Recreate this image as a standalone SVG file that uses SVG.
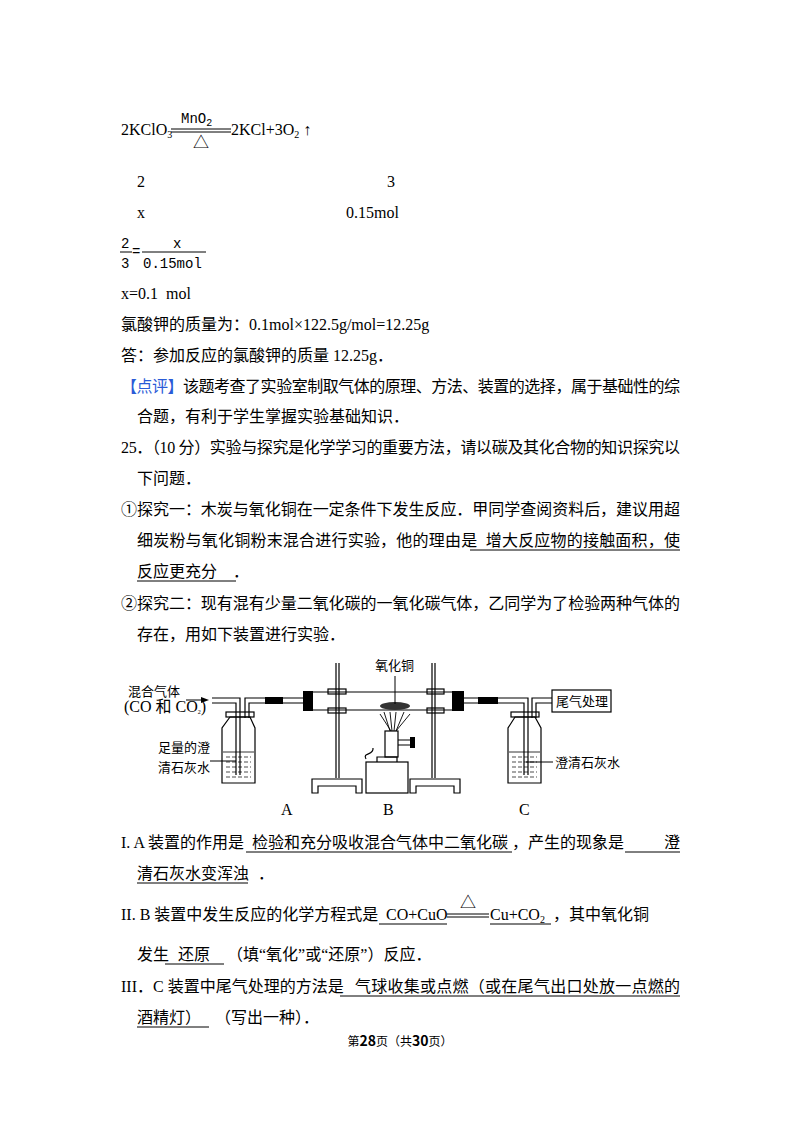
<svg xmlns="http://www.w3.org/2000/svg" width="800" height="1132" viewBox="0 0 800 1132" xml:space="preserve">
<style>
text{white-space:pre}
.t{font-family:"Liberation Serif","Noto Sans CJK SC",serif;font-size:16px;fill:#000}
.s{font-family:"Noto Sans CJK SC",sans-serif;font-size:13px;fill:#000}
.m{font-family:"Liberation Mono","Noto Sans CJK SC",monospace;font-size:14px;fill:#000}
.u{stroke:#000;stroke-width:1}
.g{fill:none;stroke:#000;stroke-width:1.2}
.blk{fill:#000}
</style>
<rect width="800" height="1132" fill="#fff"/>
<g id="text-top">
<text class="t" x="121" y="135">2KClO<tspan font-size="10" dy="3">3</tspan></text>
<line class="u" x1="171" y1="129" x2="231" y2="129"/><line class="u" x1="171" y1="132" x2="231" y2="132"/>
<text class="m" x="181" y="123">MnO<tspan font-size="10" dy="3">2</tspan></text>
<text class="t" x="193" y="148">△</text>
<text class="t" x="231" y="135">2KCl+3O<tspan font-size="10" dy="3">2</tspan><tspan dy="-3"> ↑</tspan></text>
<text class="t" x="137" y="187">2</text><text class="t" x="387" y="187">3</text>
<text class="t" x="137" y="218">x</text><text class="t" x="346" y="218">0.15mol</text>
<text class="m" x="121" y="248">2</text><line class="u" x1="120" y1="252" x2="132" y2="252"/><text class="m" x="121" y="268">3</text>
<text class="m" x="132" y="256">=</text>
<text class="m" x="173" y="248">x</text><line class="u" x1="142" y1="252" x2="206" y2="252"/><text class="m" x="143" y="268">0.15mol</text>
<text class="t" x="121" y="299">x=0.1  mol</text>
<text class="t" x="121" y="330">氯酸钾的质量为：0.1mol×122.5g/mol=12.25g</text>
<text class="t" x="121" y="361">答：参加反应的氯酸钾的质量 12.25g．</text>
<text class="t" x="121" y="392" textLength="559"><tspan fill="#2a5bd7">【点评】</tspan>该题考查了实验室制取气体的原理、方法、装置的选择，属于基础性的综</text>
<text class="t" x="137" y="422">合题，有利于学生掌握实验基础知识．</text>
<text class="t" x="121" y="453" textLength="559">25．（10 分）实验与探究是化学学习的重要方法，请以碳及其化合物的知识探究以</text>
<text class="t" x="137" y="484">下问题．</text>
<text class="t" x="121" y="515" textLength="559">①探究一：木炭与氧化铜在一定条件下发生反应．甲同学查阅资料后，建议用超</text>
<text class="t" x="137" y="546" textLength="543">细炭粉与氧化铜粉末混合进行实验，他的理由是  增大反应物的接触面积，使</text>
<line class="u" x1="470" y1="550" x2="680" y2="550"/>
<text class="t" x="137" y="577">反应更充分    ．</text>
<line class="u" x1="137" y1="581" x2="236" y2="581"/>
<text class="t" x="121" y="609" textLength="559">②探究二：现有混有少量二氧化碳的一氧化碳气体，乙同学为了检验两种气体的</text>
<text class="t" x="137" y="640">存在，用如下装置进行实验．</text>
</g>
<g id="apparatus">
<text class="s" x="128" y="696">混合气体</text>
<text class="t" x="124" y="712" font-size="9">(CO 和 CO<tspan font-size="6" dy="2">2</tspan><tspan dy="-2">)</tspan></text>
<line class="u" x1="186" y1="700" x2="203" y2="700"/><polygon class="blk" points="209,700 201,697 201,703"/>
<path class="g" d="M212 698 H240 V775 M212 703 H236 V775"/>
<path class="g" d="M245 718 V698 H265 M249 718 V703 H265"/>
<rect class="blk" x="265" y="697" width="18" height="7"/>
<path class="g" d="M283 698 H303 M283 703 H303"/>
<rect class="blk" x="303" y="691" width="10" height="20"/>
<path class="g" d="M313 692 H452 M313 710 H452"/>
<rect class="blk" x="452" y="691" width="12" height="20"/>
<path class="g" d="M464 698 H478 M464 703 H478"/>
<rect class="blk" x="478" y="697" width="20" height="7"/>
<path class="g" d="M498 698 H528 V775 M498 703 H524 V775"/>
<path class="g" d="M532 718 V698 H552 M536 718 V703 H552"/>
<rect class="g" x="552" y="690" width="59" height="22"/>
<text class="s" x="556" y="706">尾气处理</text>
<rect class="g" x="226" y="712" width="28" height="5"/>
<path class="g" d="M230 717 H250 L255 728 V783 H222 V728 Z"/>
<path d="M223 752 H254" stroke="#000" stroke-width="0.8"/>
<path d="M226 757 H251 M226 762 H251 M226 767 H251 M226 772 H251 M226 777 H251" stroke="#000" stroke-width="0.7" stroke-dasharray="4 2"/>
<text class="s" x="158" y="752">足量的澄</text>
<text class="s" x="158" y="772">清石灰水</text>
<line class="u" x1="210" y1="761" x2="236" y2="761"/>
<rect class="g" x="511" y="712" width="28" height="5"/>
<path class="g" d="M515 717 H535 L541 728 V783 H508 V728 Z"/>
<path d="M509 752 H540" stroke="#000" stroke-width="0.8"/>
<path d="M512 757 H537 M512 762 H537 M512 767 H537 M512 772 H537 M512 777 H537" stroke="#000" stroke-width="0.7" stroke-dasharray="4 2"/>
<line class="u" x1="526" y1="762" x2="553" y2="762"/>
<text class="s" x="555" y="767">澄清石灰水</text>
<path class="g" d="M336 663 V778 M339 663 V778 M432 663 V778 M435 663 V778"/>
<rect class="g" x="328" y="689" width="18" height="5"/><rect class="g" x="328" y="708" width="18" height="5"/>
<rect class="g" x="427" y="689" width="17" height="5"/><rect class="g" x="427" y="708" width="17" height="5"/>
<path class="g" d="M312 779 H362 V793 H356 V786 H318 V793 H312 Z"/>
<path class="g" d="M410 779 H460 V793 H454 V786 H416 V793 H410 Z"/>
<rect class="g" x="366" y="762" width="42" height="31"/>
<path class="g" d="M377 762 V757 H397 V762"/>
<rect class="g" x="385" y="731" width="13" height="26"/>
<path class="g" d="M398 740 H410 M398 745 H410"/>
<rect class="blk" x="410" y="737" width="5" height="11"/>
<path class="g" d="M366 759 C362 752 374 756 373 748"/>
<path d="M390 731 L384 712 M392 731 L390 712 M394 731 L396 712 M396 731 L404 712 M391 731 L380 714 M396 731 L410 714" stroke="#000" stroke-width="0.9" fill="none"/>
<ellipse cx="395" cy="706" rx="15" ry="4" fill="#333"/>
<line class="u" x1="395" y1="676" x2="395" y2="704"/>
<text class="s" x="375" y="670">氧化铜</text>
<text class="t" x="281" y="815" font-size="13">A</text>
<text class="t" x="383" y="815" font-size="13">B</text>
<text class="t" x="519" y="815" font-size="13">C</text>
</g>
<g id="text-bottom">
<text class="t" x="121" y="848">I. A 装置的作用是</text>
<text class="t" x="252" y="848">检验和充分吸收混合气体中二氧化碳</text>
<text class="t" x="512" y="848">，产生的现象是</text>
<text class="t" x="664" y="848">澄</text>
<line class="u" x1="246" y1="852" x2="512" y2="852"/><line class="u" x1="625" y1="852" x2="680" y2="852"/>
<text class="t" x="137" y="879">清石灰水变浑浊</text>
<text class="t" x="258" y="879">．</text>
<line class="u" x1="137" y1="883" x2="248" y2="883"/>
<text class="t" x="121" y="920">II. B 装置中发生反应的化学方程式是</text>
<text class="t" x="386" y="920">CO+CuO</text>
<line class="u" x1="379" y1="924" x2="447" y2="924"/>
<line class="u" x1="447" y1="914" x2="489" y2="914"/><line class="u" x1="447" y1="917" x2="489" y2="917"/>
<text class="t" x="460" y="908">△</text>
<text class="t" x="490" y="920">Cu+CO<tspan font-size="10" dy="3">2</tspan></text>
<text class="t" x="553" y="920">，其中氧化铜</text>
<line class="u" x1="490" y1="924" x2="551" y2="924"/>
<text class="t" x="137" y="960">发生</text>
<text class="t" x="178" y="960">还原</text>
<text class="t" x="227" y="960">（填“氧化”或“还原”）反应．</text>
<line class="u" x1="165" y1="964" x2="224" y2="964"/>
<text class="t" x="121" y="992">III．C 装置中尾气处理的方法是</text>
<text class="t" x="355" y="992" textLength="325">气球收集或点燃（或在尾气出口处放一点燃的</text>
<line class="u" x1="340" y1="996" x2="680" y2="996"/>
<text class="t" x="137" y="1023">酒精灯）</text>
<text class="t" x="215" y="1023">（写出一种）．</text>
<line class="u" x1="137" y1="1027" x2="209" y2="1027"/>
<text x="400" y="1046" text-anchor="middle" font-family="'Noto Sans CJK SC',sans-serif" font-size="12">第<tspan font-weight="bold" font-size="14">28</tspan>页（共<tspan font-weight="bold" font-size="14">30</tspan>页）</text>
</g>
</svg>
